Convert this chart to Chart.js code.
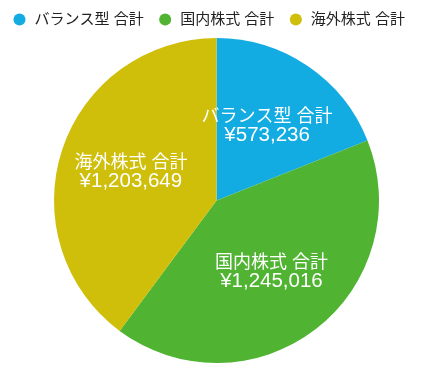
<!DOCTYPE html>
<html>
<head>
<meta charset="utf-8">
<script src="https://cdn.jsdelivr.net/npm/chart.js@4.4.0/dist/chart.umd.min.js"></script>
<style>
html,body{margin:0;padding:0;background:#fff;}
#wrap{width:433px;height:375px;position:relative;}
</style>
</head>
<body>
<div id="wrap"><canvas id="c"></canvas></div>
<script>
const categories = ['バランス型 合計', '国内株式 合計', '海外株式 合計'];
const values = [573236, 1245016, 1203649];
const colors = ['#13ace2', '#50b432', '#cfbf0b'];

const FONT = '"Liberation Sans", "Noto Sans CJK JP", sans-serif';

const sliceLabels = {
  id: 'sliceLabels',
  afterDatasetsDraw(chart) {
    const ctx = chart.ctx;
    const meta = chart.getDatasetMeta(0);
    ctx.save();
    ctx.fillStyle = '#ffffff';
    ctx.textAlign = 'center';
    ctx.textBaseline = 'middle';
    meta.data.forEach((arc, i) => {
      const p = arc.getProps(['x','y','startAngle','endAngle','outerRadius'], true);
      const mid = (p.startAngle + p.endAngle) / 2;
      const r = p.outerRadius * 0.555;
      const cx = p.x + Math.cos(mid) * r;
      const cy = p.y + Math.sin(mid) * r;
      ctx.font = '18px ' + FONT;
      ctx.fillText(categories[i], cx, cy - 9);
      ctx.font = '20.5px ' + FONT;
      ctx.fillText('¥' + values[i].toLocaleString('en-US'), cx, cy + 9);
    });
    ctx.restore();
  }
};

new Chart(document.getElementById('c'), {
  type: 'pie',
  data: {
    labels: categories,
    datasets: [{
      data: values,
      backgroundColor: colors,
      borderWidth: 0,
      radius: 162.5
    }]
  },
  options: {
    responsive: true,
    maintainAspectRatio: false,
    animation: false,
    layout: { padding: { top: -2, bottom: 11, left: -2, right: -2 } },
    plugins: {
      tooltip: { enabled: false },
      legend: {
        position: 'top',
        align: 'start',
        labels: {
          usePointStyle: true,
          pointStyle: 'circle',
          boxHeight: 8.5,
          boxWidth: 15,
          padding: 14,
          color: '#222',
          font: { size: 15, family: FONT }
        }
      }
    }
  },
  plugins: [sliceLabels]
});
</script>
</body>
</html>
